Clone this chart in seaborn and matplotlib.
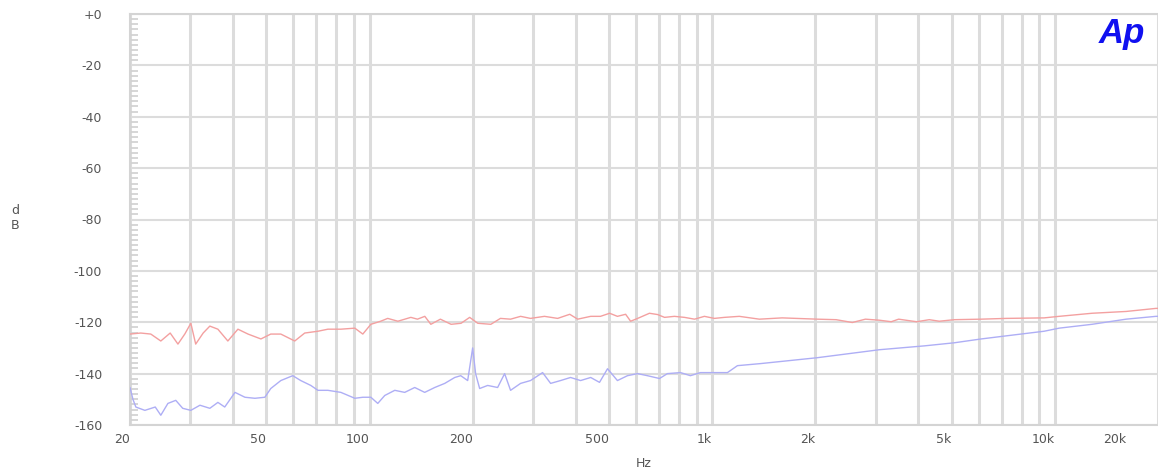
import numpy as np
import pandas as pd
import matplotlib
matplotlib.use("Agg")
import matplotlib.pyplot as plt
import matplotlib.ticker as mticker
import matplotlib.transforms as mtransforms
import seaborn as sns

# ---- data ----
red_freq = [20, 21.5, 23, 24.6, 26.2, 27.6, 28.9, 30.1, 31.1, 32.7, 34.2, 36.1, 38.6,
            41.3, 44.2, 48.2, 51.5, 55.1, 60.5, 64.7, 70.7, 75.6, 82.5, 90.6, 95.6,
            100.9, 107.8, 113, 121, 132, 138, 145, 151, 161, 173, 185, 196, 207, 226,
            241, 258, 276, 295, 324, 354, 384, 405, 442, 472, 502, 529, 559, 578, 606,
            656, 693, 726, 776, 830, 888, 949, 1015, 1086, 1200, 1373, 1600, 2027, 2300,
            2564, 2800, 3074, 3330, 3500, 3950, 4300, 4600, 5085, 6095, 7210, 9305,
            10290, 12840, 16140, 19740, 20000]
red_db = [-124.6, -124.2, -124.6, -127.3, -124.2, -128.5, -124.6, -120.4, -128.5, -124.2,
          -121.5, -122.7, -127.3, -122.7, -124.6, -126.5, -124.6, -124.6, -127.3, -124.2,
          -123.5, -122.7, -122.7, -122.3, -124.6, -120.8, -119.6, -118.5, -119.6, -118.1,
          -118.8, -117.7, -120.8, -118.8, -120.8, -120.4, -118.1, -120.4, -120.8, -118.5,
          -118.8, -117.7, -118.5, -117.7, -118.5, -116.9, -118.8, -117.7, -117.7, -116.5,
          -117.7, -116.9, -119.6, -118.5, -116.5, -117.0, -118.1, -117.7, -118.1, -118.8,
          -117.7, -118.5, -118.1, -117.7, -118.8, -118.3, -118.8, -119.0, -120.1, -118.8,
          -119.2, -119.8, -118.8, -119.8, -119.0, -119.6, -119.0, -118.8, -118.5, -118.3,
          -117.7, -116.5, -115.8, -114.6, -114.6]

blue_freq = [20, 20.4, 20.8, 22.1, 23.7, 24.6, 25.8, 27.2, 28.5, 30.1, 32.0, 34.2, 36.1,
             37.8, 40.5, 43.3, 46.3, 49.5, 51.5, 55.1, 59.7, 63.0, 67.4, 70.7, 75.6, 82.5,
             90.6, 95.6, 100.9, 105.7, 110.8, 118.5, 126.7, 135.5, 144.9, 155.0, 165.8,
             177.3, 184.6, 193.4, 200, 204, 209.6, 221.2, 236.5, 247.9, 258, 276, 295,
             320, 337.7, 361, 386, 413, 442, 469, 495, 529, 566, 606, 647, 702, 740, 808,
             864, 924, 1015, 1108, 1185, 1383, 2027, 3074, 4157, 5085, 6095, 7210, 9305,
             10290, 12840, 16140, 19740, 20000]
blue_db = [-145.4, -150.0, -153.0, -154.3, -153.0, -156.2, -151.6, -150.4, -153.5, -154.3,
           -152.3, -153.5, -151.2, -153.0, -147.3, -149.2, -149.6, -149.2, -145.8, -142.7,
           -140.8, -142.7, -144.6, -146.5, -146.5, -147.3, -149.6, -149.2, -149.2, -151.6,
           -148.5, -146.5, -147.3, -145.4, -147.3, -145.4, -143.8, -141.5, -140.8, -142.7,
           -130.0, -140.0, -145.8, -144.6, -145.4, -140.0, -146.5, -143.8, -142.7, -139.6,
           -143.8, -142.7, -141.5, -142.7, -141.5, -143.4, -138.1, -142.7, -140.8, -140.0,
           -140.8, -141.9, -140.0, -139.6, -140.8, -139.6, -139.6, -139.6, -136.9, -136.1,
           -133.8, -130.7, -129.2, -128.0, -126.5, -125.3, -123.5, -122.3, -120.8, -118.8,
           -117.7, -117.7]

x_ticks = [20, 50, 100, 200, 500, 1000, 2000, 5000, 10000, 20000]
x_ticklabels = ["20", "50", "100", "200", "500", "1k", "2k", "5k", "10k", "20k"]
y_ticks = [0, -20, -40, -60, -80, -100, -120, -140, -160]
y_ticklabels = ["+0", "-20", "-40", "-60", "-80", "-100", "-120", "-140", "-160"]

df = pd.concat([
    pd.DataFrame({"Hz": red_freq, "dB": red_db, "ch": "A"}),
    pd.DataFrame({"Hz": blue_freq, "dB": blue_db, "ch": "B"}),
])

sns.set_style("white")
plt.rcParams["font.family"] = ["DejaVu Sans"]

fig = plt.figure(figsize=(11.58, 4.71), dpi=100)
ax = fig.add_axes([130 / 1158, 1 - 425 / 471, 1 - 130 / 1158, (425 - 14) / 471])

sns.lineplot(data=df, x="Hz", y="dB", hue="ch", palette={"A": "#f3a0a0", "B": "#aeaef5"},
             sort=False, estimator=None, linewidth=1.0, legend=False, ax=ax, zorder=3)

ax.set_xscale("log")
ax.set_xlim(20, 20000)
ax.set_ylim(-160, 0)

# grid
ax.xaxis.set_major_locator(mticker.FixedLocator(x_ticks))
ax.xaxis.set_major_formatter(mticker.FixedFormatter(x_ticklabels))
ax.xaxis.set_minor_locator(mticker.LogLocator(base=10, subs=np.arange(2, 10), numticks=20))
ax.xaxis.set_minor_formatter(mticker.NullFormatter())
ax.set_yticks(y_ticks)
ax.set_yticklabels(y_ticklabels)
ax.yaxis.set_minor_locator(mticker.MultipleLocator(2))

ax.grid(True, which="both", axis="x", color="#dcdcdc", linewidth=2.2, zorder=0)
ax.grid(True, which="major", axis="y", color="#dcdcdc", linewidth=1.5, zorder=0)
ax.set_axisbelow(True)

for side in ["top", "bottom", "left"]:
    ax.spines[side].set_color("#d4d4d4")
    ax.spines[side].set_linewidth(1.5)
ax.spines["right"].set_visible(False)

ax.tick_params(axis="x", which="both", length=0, labelsize=9, labelcolor="#555555", pad=6)
ax.tick_params(axis="y", which="major", length=0, labelsize=9, labelcolor="#555555", pad=20)
ax.tick_params(axis="y", which="minor", direction="in", length=6, width=1.2, color="#d0d0d0", left=True)

# x tick labels sit just left of their grid line
xlabels = ax.get_xticklabels()
for i, lbl in enumerate(xlabels):
    lbl.set_ha("right")
    if i == len(xlabels) - 1:
        lbl.set_transform(lbl.get_transform() +
                          mtransforms.ScaledTranslation(-32 / 100, 0, fig.dpi_scale_trans))

ax.set_xlabel("Hz", fontsize=9, color="#555555", labelpad=8)
ax.set_ylabel("")
fig.text(15 / 1158, 1 - 218 / 471, "d\nB", fontsize=9, color="#555555", ha="center", va="center",
         linespacing=1.2)

fig.text(1122 / 1158, 1 - 33 / 471, "Ap", fontsize=25, color="#1010f0", fontweight="bold",
         fontstyle="italic", ha="center", va="center", family=["Liberation Sans", "DejaVu Sans"])

fig.savefig("out.png", dpi=100, facecolor="white")
